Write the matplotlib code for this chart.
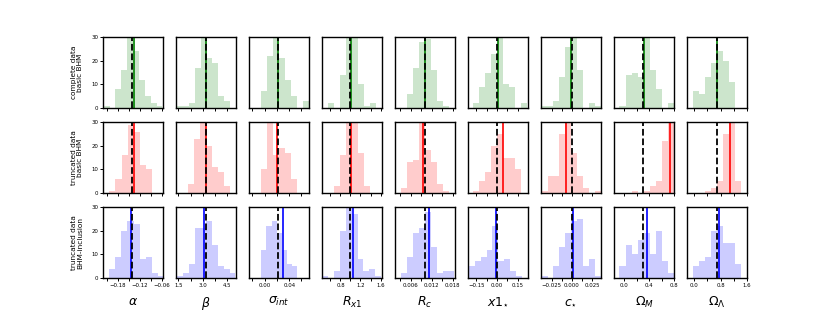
import numpy as np
import matplotlib
matplotlib.use('Agg')
import matplotlib.pyplot as plt

# parametros e linhas
param_labels = [r'$\alpha$', r'$\beta$', r'$\sigma_{int}$', r'$R_{x1}$', r'$R_c$',
                r'$x1_{\star}$', r'$c_{\star}$', r'$\Omega_M$', r'$\Omega_\Lambda$']
row_labels = ['complete data\nbasic BHM', 'truncated data\nbasic BHM',
              'truncated data\nBHM-inclusion']
row_colors = ['green', 'red', 'blue']

true_values = [-0.14, 3.2, 0.022, 1.0, 0.010, 0.0, 0.0, 0.3, 0.7]
est_complete = [-0.136, 3.2, 0.022, 1.02, 0.0101, 0.005, -0.001, 0.31, 0.70]
est_trunc_basic = [-0.136, 3.2, 0.020, 1.01, 0.0095, 0.04, -0.007, 0.74, 1.07]
est_trunc_incl = [-0.144, 3.05, 0.030, 1.05, 0.0112, -0.005, 0.002, 0.36, 0.76]

# histogramas: (min, max) e contagens por painel
ranges_complete = [(-0.219, -0.058), (1.44, 4.66), (-0.0053, 0.072), (0.555, 1.504),
                   (0.00486, 0.0169), (-0.173, 0.22), (-0.0373, 0.0358), (-0.08, 0.80),
                   (-0.03, 1.245)]
counts_complete = [[1, 0, 8, 16, 31, 24, 12, 5, 2, 1],
                   [1, 1, 2, 17, 31, 21, 19, 5, 3],
                   [7, 22, 30, 21, 12, 5, 0, 3],
                   [2, 0, 14, 36, 35, 10, 1, 2],
                   [6, 17, 28, 29, 16, 3, 1],
                   [2, 9, 15, 23, 30, 10, 9, 0, 2],
                   [1, 1, 3, 13, 26, 37, 16, 0, 2, 1],
                   [1, 14, 15, 13, 31, 16, 8, 0, 2],
                   [7, 6, 13, 19, 24, 20, 11]]

ranges_trunc_basic = [(-0.2037, -0.0854), (2.1, 4.66), (-0.0053, 0.0523), (0.667, 1.386),
                      (0.0032, 0.0169), (-0.173, 0.177), (-0.0373, 0.0358), (0.12, 0.80),
                      (0.33, 1.42)]
counts_trunc_basic = [[1, 6, 16, 29, 26, 12, 10],
                      [4, 23, 31, 20, 11, 9, 3],
                      [10, 32, 16, 19, 17, 6],
                      [3, 16, 31, 30, 17, 3],
                      [2, 13, 14, 35, 18, 13, 4, 1],
                      [1, 5, 9, 20, 25, 15, 15, 10],
                      [1, 7, 7, 25, 33, 17, 7, 2, 0, 1],
                      [1, 0, 1, 3, 5, 22, 68],
                      [1, 2, 5, 25, 62, 5]]

ranges_trunc_incl = [(-0.2037, -0.0537), (1.44, 5.0), (-0.0053, 0.0523), (0.44, 1.61),
                     (0.00333, 0.01845), (-0.207, 0.184), (-0.0373, 0.0358), (-0.08, 0.80),
                     (-0.03, 1.42)]
counts_trunc_incl = [[4, 9, 20, 24, 23, 8, 9, 2, 1],
                     [1, 2, 6, 21, 21, 24, 14, 5, 4, 2],
                     [12, 22, 24, 19, 12, 6, 5],
                     [1, 0, 3, 20, 33, 27, 8, 3, 4, 1],
                     [2, 9, 19, 21, 28, 13, 2, 3, 3],
                     [5, 7, 9, 12, 22, 7, 8, 3, 1],
                     [1, 0, 5, 13, 19, 24, 25, 5, 8, 1],
                     [5, 14, 10, 16, 19, 10, 20, 7, 2],
                     [5, 7, 9, 20, 22, 15, 15, 6]]

# eixos x
xlims = [(-0.221, -0.057), (1.36, 5.02), (-0.0256, 0.072), (0.431, 1.627),
         (0.0016, 0.0186), (-0.211, 0.225), (-0.038, 0.036), (-0.166, 0.80),
         (-0.218, 1.60)]
xticks = [[-0.21, -0.18, -0.15, -0.12, -0.09, -0.06],
          [1.5, 2.25, 3.0, 3.75, 4.5],
          [-0.02, 0.0, 0.02, 0.04, 0.06],
          [0.6, 0.8, 1.0, 1.2, 1.4, 1.6],
          [0.003, 0.006, 0.009, 0.012, 0.015, 0.018],
          [-0.15, -0.075, 0.0, 0.075, 0.15],
          [-0.025, -0.0125, 0.0, 0.0125, 0.025],
          [0.0, 0.2, 0.4, 0.6, 0.8],
          [0.0, 0.4, 0.8, 1.2, 1.6]]
xtick_labels = [['', '\u22120.18', '', '\u22120.12', '', '\u22120.06'],
                ['1.5', '', '3.0', '', '4.5'],
                ['', '0.00', '', '0.04', ''],
                ['', '0.8', '', '1.2', '', '1.6'],
                ['', '0.006', '', '0.012', '', '0.018'],
                ['\u22120.15', '', '0.00', '', '0.15'],
                ['\u22120.025', '', '0.000', '', '0.025'],
                ['0.0', '', '0.4', '', '0.8'],
                ['0.0', '', '0.8', '', '1.6']]
yticks = [0, 10, 20, 30]

estimates = [est_complete, est_trunc_basic, est_trunc_incl]
ranges = [ranges_complete, ranges_trunc_basic, ranges_trunc_incl]
counts = [counts_complete, counts_trunc_basic, counts_trunc_incl]

fig, axes = plt.subplots(3, 9, figsize=(8.3, 3.12), dpi=100)
fig.subplots_adjust(left=0.124, right=0.900, top=0.881, bottom=0.109,
                    wspace=0.22, hspace=0.2)

for r in range(3):
    for c in range(9):
        ax = axes[r, c]
        lo, hi = ranges[r][c]
        cnt = counts[r][c]
        edges = np.linspace(lo, hi, len(cnt) + 1)
        ax.hist(edges[:-1], bins=edges, weights=cnt, color=row_colors[r], alpha=0.2)
        ax.axvline(estimates[r][c], color=row_colors[r], lw=1.2)
        ax.axvline(true_values[c], color='k', ls='--', lw=1.3)
        ax.set_xlim(xlims[c])
        ax.set_ylim(0, 30)

        for sp in ax.spines.values():
            sp.set_linewidth(1.0)
        ax.tick_params(length=2, width=0.7, pad=1.5, labelsize=3.9)

        if r == 2:
            ax.set_xticks(xticks[c], xtick_labels[c])
            ax.set_xlabel(param_labels[c], fontsize=9, labelpad=5)
        else:
            ax.set_xticks(xticks[c], [''] * len(xticks[c]))

        if c == 0:
            ax.set_yticks(yticks)
            ax.set_ylabel(row_labels[r], fontsize=5.3, linespacing=1.0)
            ax.yaxis.set_label_coords(-0.33, 0.5)
        else:
            ax.set_yticks([])

plt.savefig('out.png', dpi=100)
plt.close()
